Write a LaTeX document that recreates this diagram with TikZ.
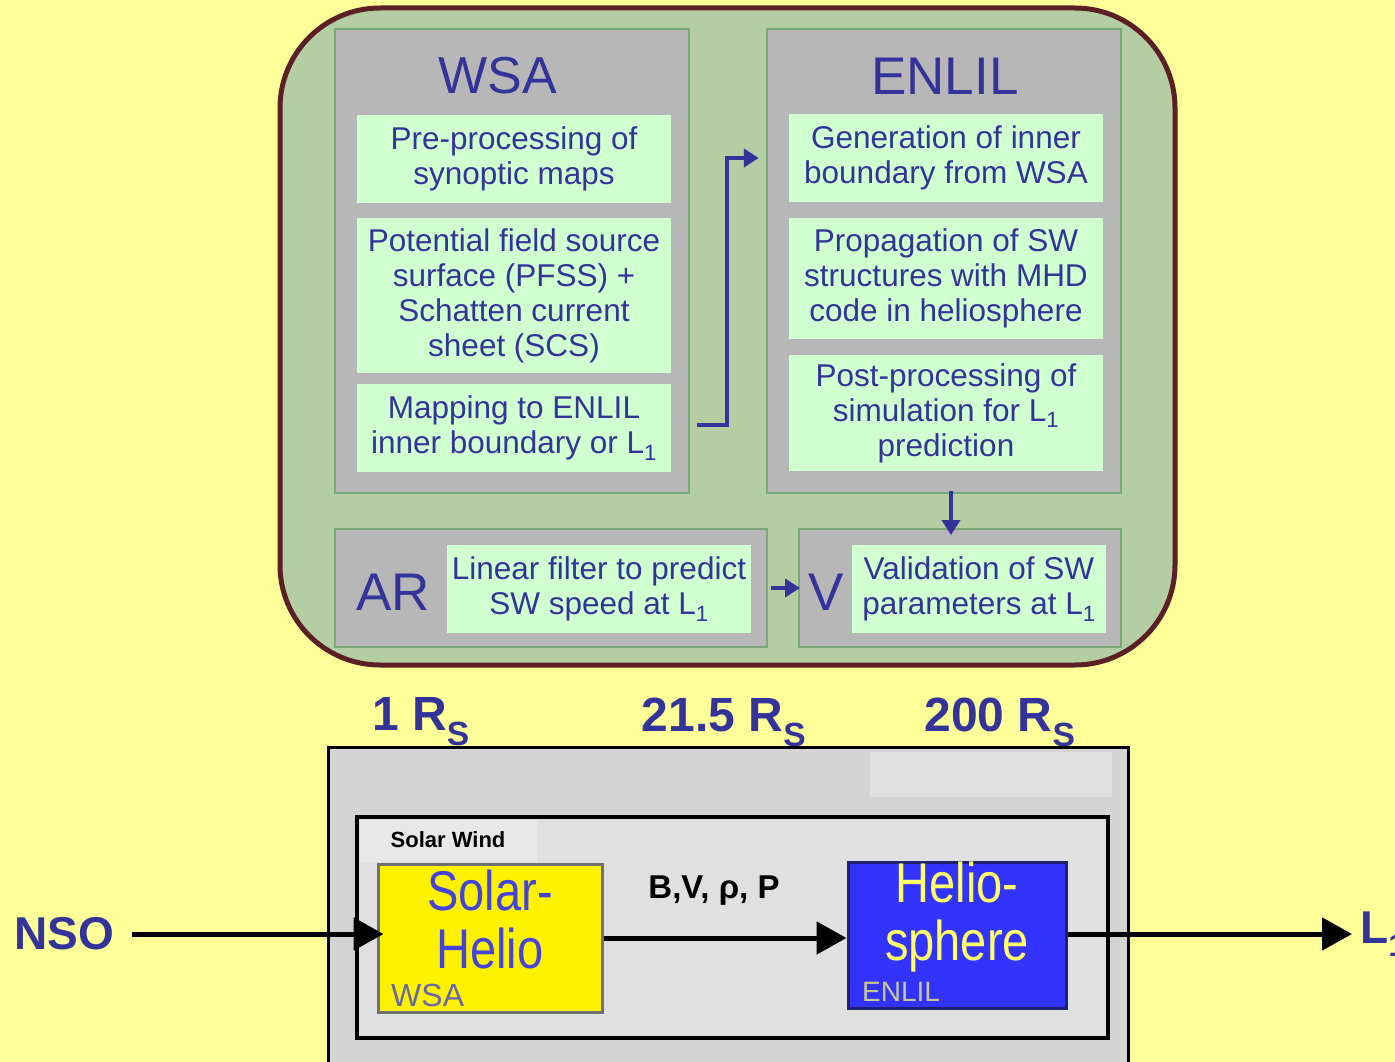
\documentclass[tikz,border=0pt]{standalone}
\usepackage{fontspec}
\setmainfont{Liberation Sans}
\newfontfamily\narrowsans[FakeStretch=0.84]{Liberation Sans}
\usetikzlibrary{arrows.meta}
\definecolor{paper}{HTML}{FFFF99}
\definecolor{leaf}{HTML}{B4CEA4}
\definecolor{rim}{HTML}{5C1F25}
\definecolor{panelgrey}{HTML}{B7B7B7}
\definecolor{panelline}{HTML}{7BA878}
\definecolor{mint}{HTML}{D0FFD0}
\definecolor{ink}{HTML}{333399}
\definecolor{boxgrey}{HTML}{D4D4D4}
\definecolor{innergrey}{HTML}{E0E0E0}
\definecolor{tabgrey}{HTML}{E8E8E8}
\definecolor{edgegrey}{HTML}{707070}
\definecolor{solarblue}{HTML}{4444DD}
\definecolor{heliofill}{HTML}{3333FF}
\definecolor{helioedge}{HTML}{202070}
\definecolor{heliotext}{HTML}{FFFF66}
\definecolor{codegrey}{HTML}{6868A8}
\definecolor{codepale}{HTML}{C8C890}

\begin{document}
\begin{tikzpicture}[x=1pt,y=-1pt,
  panel/.style={draw=panelline,line width=2pt,fill=panelgrey},
  textbox/.style={fill=mint,text=ink,align=center,inner sep=0pt,font=\fontsize{31.5}{35}\selectfont},
  title/.style={text=ink,inner sep=0pt,font=\fontsize{52}{54}\selectfont},
  flow/.style={draw=ink,line width=4.5pt,-{Triangle[length=15pt,width=18pt]}},
  bigarrow/.style={line width=5pt,-{Triangle[length=30pt,width=32pt]}},
  radius/.style={text=ink,inner sep=0pt,font=\bfseries\fontsize{48}{50}\selectfont}]
  \useasboundingbox[fill=paper] (0,0) rectangle (1395,1062);
  \draw[rim,line width=5pt,fill=leaf,rounded corners=100pt] (280,8) rectangle (1175,665);

  \node[panel,minimum width=354,minimum height=464] (wsa) at (512,261) {};
  \node[panel,minimum width=354,minimum height=464] (enlil) at (944,261) {};
  \node[panel,minimum width=432,minimum height=118] (ar) at (551,588) {};
  \node[panel,minimum width=322,minimum height=118] (v) at (960,588) {};

  \node[title] (wsatitle) at (498,76) {WSA};
  \node[title,font=\fontsize{53}{55}\selectfont] (enliltitle) at (945,76) {ENLIL};
  \node[title,font=\fontsize{53}{55}\selectfont] (artitle) at (393,592) {AR};
  \node[title,font=\fontsize{53}{55}\selectfont] (vtitle) at (826,592) {V};

  \node[textbox,minimum width=314,minimum height=88] (pre) at (514,159) {Pre-processing of\\synoptic maps};
  \node[textbox,minimum width=314,minimum height=155] (pfss) at (514,295.5) {Potential field source\\surface (PFSS) +\\Schatten current\\sheet (SCS)};
  \node[textbox,minimum width=314,minimum height=88] (map) at (514,428) {Mapping to ENLIL\\inner boundary or L\textsubscript{1}};

  \node[textbox,minimum width=314,minimum height=88] (gen) at (946,158) {Generation of inner\\boundary from WSA};
  \node[textbox,minimum width=314,minimum height=121] (prop) at (946,278.5) {Propagation of SW\\structures with MHD\\code in heliosphere};
  \node[textbox,minimum width=314,minimum height=116] (post) at (946,413) {Post-processing of\\simulation for L\textsubscript{1}\\prediction};

  \node[textbox,minimum width=304,minimum height=88] (lin) at (599,589) {Linear filter to predict\\SW speed at L\textsubscript{1}};
  \node[textbox,minimum width=254,minimum height=88] (val) at (979,589) {Validation of SW\\parameters at L\textsubscript{1}};

  \draw[flow] ([xshift=26pt,yshift=3pt]map.east) -| ([xshift=-62pt]gen.west) -- ([xshift=-30pt]gen.west);
  \draw[flow] ([xshift=7pt,yshift=3pt]enlil.south) -- ([xshift=-9pt,yshift=-7pt]v.north);
  \draw[flow] ([xshift=3pt]ar.east) -- ([xshift=2pt]v.west);

  \node[radius] (rone) at (421,722) {1 R\textsubscript{S}};
  \node[radius] (rtwo) at (724,722) {21.5 R\textsubscript{S}};
  \node[radius] (rthree) at (1000,722) {200 R\textsubscript{S}};

  \draw[line width=3pt,fill=boxgrey] (328,747) rectangle (1128,1080);
  \fill[innergrey] (870,752) rectangle (1112,797);
  \node[draw,line width=4pt,fill=innergrey,minimum width=751,minimum height=221] (wind) at (732.5,927.5) {};
  \fill[tabgrey] (360,820) rectangle (537,862);
  \node[inner sep=0pt,font=\bfseries\fontsize{22}{24}\selectfont] (windlabel) at (448,840) {Solar Wind};

  \node[draw=edgegrey,line width=3pt,fill=yellow,minimum width=224,minimum height=148] (solar) at (490,938) {};
  \node[text=solarblue,align=center,inner sep=0pt,font=\narrowsans\fontsize{56}{58}\selectfont] (solartext) at (490,919) {Solar-\\Helio};
  \node[text=codegrey,anchor=west,inner sep=0pt,font=\fontsize{32}{34}\selectfont] (wsacode) at (391,995) {WSA};

  \node[draw=helioedge,line width=3pt,fill=heliofill,minimum width=218,minimum height=146] (helio) at (957,935) {};
  \node[text=heliotext,align=center,inner sep=0pt,font=\narrowsans\fontsize{56}{58}\selectfont] (heliotext) at (957,917) {Helio-\\sphere};
  \node[text=codepale,anchor=west,inner sep=0pt,font=\fontsize{28}{30}\selectfont] (enlilcode) at (862,992) {ENLIL};

  \node[inner sep=0pt,font=\bfseries\fontsize{33}{35}\selectfont] (bvrp) at (714,891) {B,V, ρ, P};
  \draw[bigarrow] (solar.east) -- (solar.east -| helio.west);

  \node[text=ink,font=\bfseries\fontsize{46}{48}\selectfont] (nso) at (64,934) {NSO};
  \draw[bigarrow] ([xshift=15pt]nso.east) -- ([xshift=7pt,yshift=4pt]solar.west);
  \node[text=ink,anchor=west,inner sep=0pt,font=\bfseries\fontsize{46}{48}\selectfont] (lone) at (1360,934) {L\textsubscript{1}};
  \draw[bigarrow] ([yshift=1pt]helio.east) -- ([xshift=-8pt]lone.west);
\end{tikzpicture}
\end{document}
